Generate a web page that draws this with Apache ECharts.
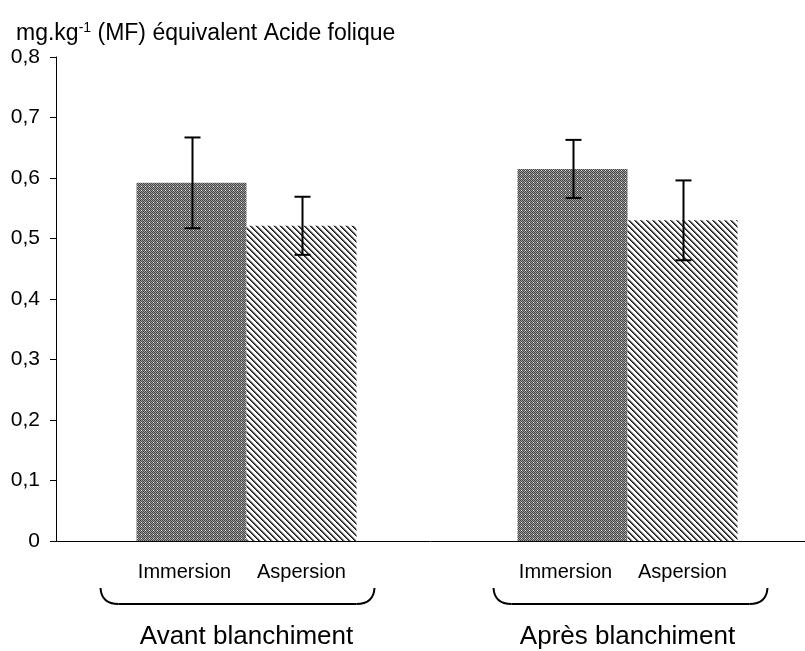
<!DOCTYPE html>
<html>
<head>
<meta charset="utf-8">
<script src="https://cdn.jsdelivr.net/npm/echarts@6/dist/echarts.min.js"></script>
<style>
html,body{margin:0;padding:0;background:#fff;}
#chart{width:805px;height:651px;}
</style>
</head>
<body>
<div id="chart"></div>
<script>
// ---- data ----
const groups = ['Avant blanchiment', 'Après blanchiment'];
const seriesNames = ['Immersion', 'Aspersion'];
const immersionMeans = [0.592, 0.615];
const immersionErr = [0.075, 0.048];
const aspersionMeans = [0.521, 0.530];
const aspersionErr = [0.048, 0.066];
const yTickLabels = ['0', '0,1', '0,2', '0,3', '0,4', '0,5', '0,6', '0,7', '0,8'];

// ---- patterns ----
function makeChecker() {
  const c = document.createElement('canvas');
  c.width = 4; c.height = 4;
  const ctx = c.getContext('2d');
  for (let y = 0; y < 4; y++) {
    for (let x = 0; x < 4; x++) {
      let col = ((x + y) % 2 === 0) ? '#444444' : '#9c9c9c';
      if (x === 1 && y === 2) col = '#e8e8e8';
      ctx.fillStyle = col;
      ctx.fillRect(x, y, 1, 1);
    }
  }
  return c;
}
function makeStripes() {
  const p = 6;
  const c = document.createElement('canvas');
  c.width = p; c.height = p;
  const ctx = c.getContext('2d');
  for (let y = 0; y < p; y++) {
    for (let x = 0; x < p; x++) {
      const d = ((x - y) % p + p) % p;
      let col = '#ffffff';
      if (d === 0) col = '#1a1a1a';
      else if (d === 1) col = '#555555';
      else if (d === 2) col = '#b8b8b8';
      ctx.fillStyle = col;
      ctx.fillRect(x, y, 1, 1);
    }
  }
  return c;
}

const FONT = '"Liberation Sans", Arial, Helvetica, sans-serif';
const BAR_W = 110;
const GRID_LEFT = 56;
const CAT_PX = 381; // pixels per category unit

function pairs(vals) { return vals.map((v, i) => [i, v]); }
function errData(means, errs) {
  return means.map((m, i) => [i, m - errs[i], m + errs[i]]);
}
function errSeries(means, errs, offset) {
  return {
    type: 'custom',
    z: 10,
    silent: true,
    data: errData(means, errs),
    encode: { x: 0, y: [1, 2] },
    renderItem: function (params, api) {
      const cat = api.value(0);
      const pLo = api.coord([cat, api.value(1)]);
      const pHi = api.coord([cat, api.value(2)]);
      const x = Math.round(pHi[0] + offset) + 0.5;
      const cap = 8;
      const st = { stroke: '#000', lineWidth: 2 };
      return {
        type: 'group',
        children: [
          { type: 'line', shape: { x1: x, y1: pHi[1], x2: x, y2: pLo[1] }, style: st },
          { type: 'line', shape: { x1: x - cap, y1: pHi[1], x2: x + cap, y2: pHi[1] }, style: st },
          { type: 'line', shape: { x1: x - cap, y1: pLo[1], x2: x + cap, y2: pLo[1] }, style: st }
        ]
      };
    }
  };
}

const chart = echarts.init(document.getElementById('chart'), null, { renderer: 'canvas' });
function barLabel(dx) {
  return {
    show: true,
    position: 'bottom',
    distance: 21,
    offset: [dx, 0],
    formatter: '{a}',
    color: '#000',
    fontSize: 20,
    fontFamily: FONT
  };
}
const gridWidth = 805 - GRID_LEFT;
const xMin = -0.5;
const xMax = xMin + gridWidth / CAT_PX;

const option = {
  backgroundColor: '#fff',
  animation: false,
  title: {
    text: '{a|mg.kg}{s|-1}{a| (MF) équivalent Acide folique}',
    left: 11,
    top: 16,
    textStyle: {
      fontWeight: 'normal',
      rich: {
        a: { fontSize: 23, fontFamily: FONT, fontWeight: 'normal', color: '#000', lineHeight: 26 },
        s: { fontSize: 14, fontFamily: FONT, fontWeight: 'normal', color: '#000', verticalAlign: 'top', lineHeight: 26, padding: [0, 0, 8, 0] }
      }
    }
  },
  grid: { left: GRID_LEFT, top: 57, right: 0, bottom: 110, containLabel: false },
  xAxis: {
    type: 'value',
    min: xMin,
    max: xMax,
    axisLine: { show: true, onZero: false, lineStyle: { color: '#000', width: 1 } },
    axisTick: { show: false },
    axisLabel: {
      margin: 83, fontSize: 26, fontFamily: FONT, color: '#000',
      customValues: [0, 1],
      formatter: function (v) { return groups[Math.round(v)]; }
    },
    splitLine: { show: false }
  },
  yAxis: {
    type: 'value',
    min: 0,
    max: 0.8,
    interval: 0.1,
    axisLine: { show: true, onZero: false, lineStyle: { color: '#000', width: 1 } },
    axisTick: { show: true, length: 6, lineStyle: { color: '#000', width: 1 } },
    axisLabel: {
      margin: 16,
      fontSize: 21,
      fontFamily: FONT,
      color: '#000',
      formatter: function (v) { return yTickLabels[Math.round(v * 10)]; }
    },
    splitLine: { show: false }
  },
  series: [
    {
      name: seriesNames[0],
      type: 'bar',
      barWidth: BAR_W,
      barGap: '0%',
      data: pairs(immersionMeans),
      itemStyle: { color: { image: makeChecker(), repeat: 'repeat' } },
      label: barLabel(-7)
    },
    {
      name: seriesNames[1],
      type: 'bar',
      barWidth: BAR_W,
      barGap: '0%',
      data: pairs(aspersionMeans),
      itemStyle: { color: { image: makeStripes(), repeat: 'repeat' } },
      label: barLabel(0)
    },
    errSeries(immersionMeans, immersionErr, -BAR_W / 2),
    errSeries(aspersionMeans, aspersionErr, BAR_W / 2)
  ]
};
chart.setOption(option);

// braces under each group
const braceTop = 588, braceBottom = 604, halfW = 137, r = 18;
const braceShift = [-9, 3];
const braceEls = [];
groups.forEach((g, i) => {
  const cx = chart.convertToPixel({ xAxisIndex: 0 }, i) + braceShift[i];
  const x1 = cx - halfW, x2 = cx + halfW;
  const st = { stroke: '#000', lineWidth: 2, fill: null };
  braceEls.push({ type: 'bezierCurve', shape: { x1: x1, y1: braceTop, cpx1: x1 + 1, cpy1: braceBottom, x2: x1 + r, y2: braceBottom }, style: st });
  braceEls.push({ type: 'line', shape: { x1: x1 + r, y1: braceBottom, x2: x2 - r, y2: braceBottom }, style: st });
  braceEls.push({ type: 'bezierCurve', shape: { x1: x2 - r, y1: braceBottom, cpx1: x2 - 1, cpy1: braceBottom, x2: x2, y2: braceTop }, style: st });
});
chart.setOption({ graphic: braceEls });
</script>
</body>
</html>
